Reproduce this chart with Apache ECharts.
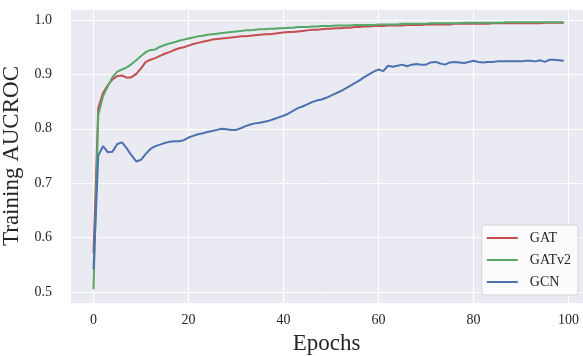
<!DOCTYPE html>
<html lang="en">
<head>
    <meta charset="UTF-8">
    <title>Training AUCROC</title>
    <style>
        html, body { margin: 0; padding: 0; background: #fff; }
        #main { width: 583px; height: 356px; }
    </style>
</head>
<body>
    <div id="main"></div>
    <script src="https://cdn.jsdelivr.net/npm/echarts@6/dist/echarts.min.js"></script>
    <script>
        // values, one per epoch (0..99)
        var gat = [
            0.572, 0.838, 0.866, 0.880, 0.891, 0.897, 0.898, 0.894, 0.895, 0.901,
            0.911, 0.923, 0.927, 0.930, 0.934, 0.938, 0.941, 0.945, 0.948, 0.950,
            0.953, 0.956, 0.958, 0.960, 0.962, 0.964, 0.965, 0.966, 0.967, 0.968,
            0.969, 0.970, 0.970, 0.971, 0.972, 0.973, 0.974, 0.974, 0.975, 0.976,
            0.977, 0.978, 0.978, 0.979, 0.980, 0.981, 0.982, 0.982, 0.983, 0.984,
            0.984, 0.985, 0.985, 0.986, 0.986, 0.987, 0.987, 0.988, 0.988, 0.989,
            0.989, 0.989, 0.990, 0.990, 0.990, 0.990, 0.991, 0.991, 0.991, 0.991,
            0.992, 0.992, 0.992, 0.992, 0.992, 0.992, 0.993, 0.993, 0.993, 0.993,
            0.993, 0.993, 0.993, 0.993, 0.994, 0.994, 0.994, 0.994, 0.994, 0.994,
            0.994, 0.994, 0.994, 0.994, 0.994, 0.995, 0.995, 0.995, 0.995, 0.995
        ];
        var gatv2 = [
            0.505, 0.826, 0.860, 0.878, 0.895, 0.905, 0.909, 0.913, 0.919, 0.926,
            0.934, 0.941, 0.945, 0.946, 0.951, 0.954, 0.957, 0.959, 0.962, 0.964,
            0.966, 0.968, 0.970, 0.971, 0.973, 0.974, 0.975, 0.976, 0.977, 0.978,
            0.979, 0.980, 0.981, 0.981, 0.982, 0.983, 0.983, 0.984, 0.984, 0.985,
            0.985, 0.986, 0.986, 0.987, 0.987, 0.987, 0.988, 0.988, 0.989, 0.989,
            0.989, 0.990, 0.990, 0.990, 0.990, 0.991, 0.991, 0.991, 0.991, 0.991,
            0.992, 0.992, 0.992, 0.992, 0.992, 0.993, 0.993, 0.993, 0.993, 0.993,
            0.993, 0.994, 0.994, 0.994, 0.994, 0.994, 0.994, 0.994, 0.995, 0.995,
            0.995, 0.995, 0.995, 0.995, 0.995, 0.995, 0.995, 0.996, 0.996, 0.996,
            0.996, 0.996, 0.996, 0.996, 0.996, 0.996, 0.996, 0.996, 0.996, 0.996
        ];
        var gcn = [
            0.542, 0.751, 0.768, 0.757, 0.758, 0.772, 0.775, 0.764, 0.751, 0.740,
            0.743, 0.754, 0.763, 0.768, 0.771, 0.774, 0.776, 0.777, 0.777, 0.779,
            0.784, 0.787, 0.790, 0.792, 0.794, 0.796, 0.798, 0.800, 0.799, 0.798,
            0.798, 0.801, 0.805, 0.808, 0.810, 0.811, 0.813, 0.815, 0.818, 0.821,
            0.824, 0.828, 0.833, 0.838, 0.841, 0.845, 0.849, 0.852, 0.854, 0.857,
            0.861, 0.865, 0.869, 0.874, 0.879, 0.884, 0.889, 0.895, 0.900, 0.905,
            0.909, 0.906, 0.916, 0.914, 0.916, 0.918, 0.915, 0.918, 0.919, 0.918,
            0.918, 0.922, 0.923, 0.920, 0.918, 0.922, 0.923, 0.922, 0.921, 0.923,
            0.925, 0.923, 0.922, 0.923, 0.923, 0.924, 0.924, 0.924, 0.924, 0.924,
            0.924, 0.925, 0.925, 0.924, 0.926, 0.923, 0.927, 0.927, 0.926, 0.925
        ];
        var seriesNames = ['GAT', 'GATv2', 'GCN'];
        var seriesColors = ['#C44E52', '#55A868', '#4C72B0'];

        var epochs = gat.map(function (v, i) { return i; });
        function pairs(vals) {
            return vals.map(function (v, i) { return [epochs[i], v]; });
        }

        var font = '"Liberation Serif", "Times New Roman", serif';
        var myChart = echarts.init(document.getElementById('main'));
        var option = {
            backgroundColor: '#fff',
            animation: false,
            textStyle: { fontFamily: font },
            grid: {
                left: 70, right: 0, top: 9, bottom: 53,
                outerBoundsMode: 'none',
                containLabel: false,
                show: true,
                backgroundColor: '#EAEAF2',
                borderWidth: 0
            },
            legend: {
                orient: 'vertical',
                right: 5,
                bottom: 61,
                data: seriesNames,
                icon: 'rect',
                itemWidth: 31,
                itemHeight: 2,
                itemGap: 8,
                padding: [6, 7, 6, 5],
                backgroundColor: 'rgba(255,255,255,0.8)',
                borderColor: '#d5d5d5',
                borderWidth: 1,
                borderRadius: 3,
                textStyle: {
                    fontFamily: font,
                    fontSize: 14,
                    lineHeight: 14,
                    color: '#262626',
                    padding: [0, 0, 0, 7]
                }
            },
            xAxis: {
                type: 'value',
                min: -4.95,
                max: 103.05,
                splitNumber: 5,
                name: 'Epochs',
                nameLocation: 'middle',
                nameGap: 29,
                nameTextStyle: { fontFamily: font, fontSize: 23, color: '#262626' },
                axisLine: { show: false },
                axisTick: { show: false },
                axisLabel: {
                    fontFamily: font, fontSize: 14, color: '#262626', margin: 10,
                    showMinLabel: false, showMaxLabel: false
                },
                splitLine: { show: true, lineStyle: { color: '#fff', width: 1 } }
            },
            yAxis: {
                type: 'value',
                min: 0.4797,
                max: 1.0203,
                splitNumber: 5,
                name: 'Training AUCROC',
                nameLocation: 'middle',
                nameGap: 39,
                nameTextStyle: { fontFamily: font, fontSize: 23, color: '#262626' },
                axisLine: { show: false },
                axisTick: { show: false },
                axisLabel: {
                    fontFamily: font, fontSize: 14, color: '#262626', margin: 18,
                    showMinLabel: false, showMaxLabel: false,
                    formatter: function (v) { return v.toFixed(1); }
                },
                splitLine: { show: true, lineStyle: { color: '#fff', width: 1 } }
            },
            series: [gat, gatv2, gcn].map(function (vals, k) {
                return {
                    name: seriesNames[k],
                    type: 'line',
                    data: pairs(vals),
                    symbol: 'none',
                    color: seriesColors[k],
                    lineStyle: { width: 2, color: seriesColors[k] }
                };
            })
        };
        myChart.setOption(option);
    </script>
</body>
</html>
